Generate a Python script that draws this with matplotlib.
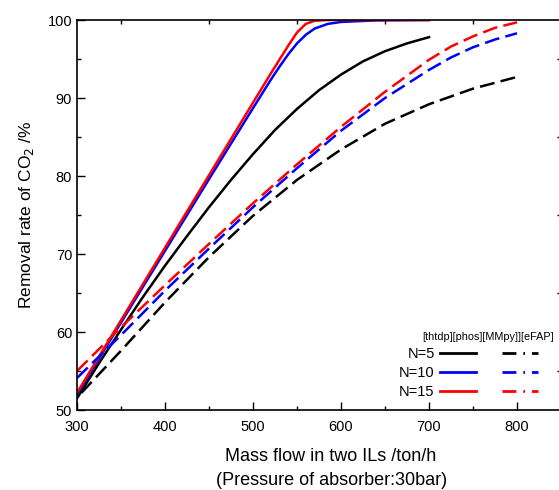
import matplotlib.pyplot as plt
from matplotlib.lines import Line2D
from matplotlib.ticker import MultipleLocator

plt.rcParams['font.family'] = ['Liberation Sans', 'DejaVu Sans']

# [thtdp][phos] - solid lines
flow_s = [300, 350, 400, 450, 500, 520, 530, 540, 550, 560, 570, 585, 600, 640, 700]
red_s = [52.2, 61.5, 70.8, 80.1, 89.4, 93.1, 94.9, 96.7, 98.4, 99.5, 99.9, 100.0, 100.0, 100.0, 100.0]
blue_s = [52.0, 61.2, 70.4, 79.6, 88.7, 92.3, 94.0, 95.6, 97.0, 98.1, 98.9, 99.5, 99.75, 99.95, 100.0]
flow_k = [300, 325, 350, 375, 400, 425, 450, 475, 500, 525, 550, 575, 600, 625, 650, 675, 700]
black_s = [51.5, 56.0, 60.3, 64.5, 68.5, 72.3, 76.0, 79.5, 82.8, 85.9, 88.6, 91.0,
           93.0, 94.7, 96.0, 97.0, 97.8]

# [MMpy][eFAP] - dashed lines
flow_d = [300, 350, 400, 450, 500, 550, 600, 650, 700, 725, 750, 775, 800]
red_d = [55.0, 60.6, 66.0, 71.3, 76.5, 81.5, 86.3, 90.8, 94.9, 96.6, 97.9, 99.0, 99.7]
blue_d = [54.1, 59.6, 65.3, 70.7, 76.0, 81.0, 85.8, 90.0, 93.6, 95.2, 96.5, 97.5, 98.3]
flow_kd = [305, 350, 400, 450, 500, 550, 600, 650, 700, 750, 800]
black_d = [52.2, 57.6, 63.8, 69.6, 74.9, 79.5, 83.4, 86.7, 89.2, 91.2, 92.7]

fig = plt.figure(figsize=(5.59, 4.90), dpi=100)
ax = fig.add_axes([77/559, 1-410/490, 484/559, 390/490])

lw = 1.8
dash = (0, (6, 2.5))
ax.plot(flow_k, black_s, color='black', lw=lw)
ax.plot(flow_s, blue_s, color='#0000ff', lw=lw)
ax.plot(flow_s, red_s, color='#ff0000', lw=lw)
ax.plot(flow_kd, black_d, color='black', lw=lw, ls=dash)
ax.plot(flow_d, blue_d, color='#0000ff', lw=lw, ls=dash)
ax.plot(flow_d, red_d, color='#ff0000', lw=lw, ls=dash)

ax.set_xlim(300, 850)
ax.set_ylim(50, 100)
ax.xaxis.set_major_locator(MultipleLocator(100))
ax.xaxis.set_minor_locator(MultipleLocator(50))
ax.yaxis.set_major_locator(MultipleLocator(10))
ax.yaxis.set_minor_locator(MultipleLocator(5))
ax.tick_params(which='major', direction='in', length=6, width=1, labelsize=10.5,
               top=False, right=False)
ax.tick_params(axis='x', which='major', pad=7)
ax.tick_params(which='minor', direction='in', length=3, width=1, top=True, right=True)
for sp in ax.spines.values():
    sp.set_linewidth(1.2)

ax.set_xlabel('Mass flow in two ILs /ton/h\n(Pressure of absorber:30bar)', fontsize=13,
              linespacing=1.55)
ax.xaxis.set_label_coords(0.525, -0.097, transform=ax.transAxes)
ax.xaxis.label.set_va('top')
ax.set_ylabel('Removal rate of CO$_2$ /%', fontsize=12.5, labelpad=8)

dd = (0, (5, 2.5, 0.6, 2.5))
handles = [Line2D([], [], color='black', lw=2),
           Line2D([], [], color='#0000ff', lw=2),
           Line2D([], [], color='#ff0000', lw=2),
           Line2D([], [], color='black', lw=2, ls=dd),
           Line2D([], [], color='#0000ff', lw=2, ls=dd),
           Line2D([], [], color='#ff0000', lw=2, ls=dd)]
labels = ['N=5', 'N=10', 'N=15', '', '', '']
leg = ax.legend(handles, labels, ncol=2, markerfirst=False, frameon=False,
                loc='lower right', bbox_to_anchor=(0.98, -0.005),
                title='[thtdp][phos][MMpy]][eFAP]', title_fontsize=7.8,
                fontsize=10.5, handlelength=2.45, columnspacing=1.4,
                handletextpad=0.4, labelspacing=0.35)
leg._legend_box.align = 'right'
# push the title a bit past the handles, as in the original
leg.get_title().set_x(16)

fig.savefig('out.png', dpi=100)
